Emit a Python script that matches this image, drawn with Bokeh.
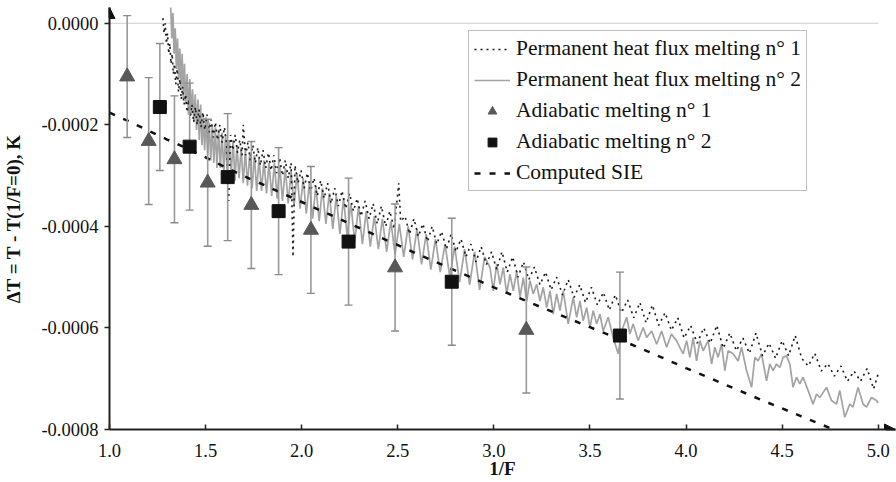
from bokeh.plotting import figure
from bokeh.models import (Range1d, FixedTicker, NumeralTickFormatter, Legend, LegendItem,
                          Arrow, NormalHead)
from bokeh.embed import file_html
from bokeh.resources import INLINE

UNIT = 1e-4  # values below are written in units of 1e-4 K

# Permanent heat flux melting n° 1 (dotted)
s1_x = [1.278, 1.284, 1.290, 1.296, 1.302, 1.308, 1.314, 1.320, 1.326, 1.332, 1.338, 1.345, 1.352, 1.359,
        1.366, 1.373, 1.380, 1.388, 1.396, 1.404, 1.412, 1.420, 1.429, 1.438, 1.447, 1.456, 1.466, 1.476,
        1.486, 1.496, 1.507, 1.518, 1.529, 1.540, 1.551, 1.562, 1.574, 1.586, 1.598, 1.610, 1.620, 1.630,
        1.642, 1.654, 1.666, 1.678, 1.690, 1.696, 1.708, 1.720, 1.733, 1.746, 1.759, 1.772, 1.785, 1.799,
        1.813, 1.827, 1.841, 1.855, 1.870, 1.885, 1.900, 1.915, 1.930, 1.945, 1.955, 1.965, 1.981, 1.997,
        2.013, 2.030, 2.047, 2.064, 2.081, 2.099, 2.117, 2.135, 2.153, 2.172, 2.191, 2.210, 2.229, 2.249,
        2.269, 2.289, 2.309, 2.330, 2.351, 2.372, 2.393, 2.415, 2.437, 2.459, 2.481, 2.505, 2.515, 2.538,
        2.561, 2.584, 2.607, 2.631, 2.655, 2.679, 2.703, 2.728, 2.753, 2.778, 2.803, 2.829, 2.855, 2.881,
        2.907, 2.934, 2.961, 2.988, 3.015, 3.042, 3.070, 3.098, 3.126, 3.154, 3.182, 3.211, 3.240, 3.269,
        3.298, 3.327, 3.357, 3.387, 3.417, 3.447, 3.477, 3.508, 3.539, 3.570, 3.601, 3.632, 3.664, 3.696,
        3.728, 3.760, 3.792, 3.825, 3.858, 3.891, 3.924, 3.957, 3.990, 4.024, 4.058, 4.092, 4.126, 4.160,
        4.194, 4.228, 4.262, 4.296, 4.330, 4.364, 4.398, 4.432, 4.466, 4.500, 4.534, 4.568, 4.602, 4.636,
        4.670, 4.704, 4.738, 4.772, 4.806, 4.840, 4.874, 4.908, 4.942, 4.976, 5.000]
s1_y = [0.1, -0.2, 0.0, -0.4, -0.2, -0.6, -0.4, -0.8, -0.6, -1.0, -0.8, -1.2, -0.9, -1.35,
        -1.1, -1.5, -1.25, -1.6, -1.4, -1.75, -1.5, -1.85, -1.6, -1.95, -1.65, -2.0, -1.7, -2.05,
        -1.75, -2.1, -1.8, -2.15, -1.9, -2.25, -1.95, -2.3, -2.0, -2.35, -2.05, -2.4, -3.5, -2.2,
        -2.5, -2.2, -2.55, -2.3, -2.6, -2.0, -2.6, -2.35, -2.7, -2.4, -2.75, -2.45, -2.8, -2.5,
        -2.85, -2.55, -2.9, -2.6, -2.95, -2.65, -3.0, -2.7, -3.05, -2.75, -4.6, -2.8, -3.15, -2.9,
        -3.25, -2.95, -3.3, -3.05, -3.4, -3.1, -3.45, -3.15, -3.55, -3.25, -3.6, -3.3, -3.65, -3.35,
        -3.7, -3.45, -3.8, -3.5, -3.85, -3.55, -3.95, -3.6, -4.0, -3.7, -4.05, -3.15, -3.9, -3.8,
        -4.15, -3.85, -4.2, -3.95, -4.3, -4.0, -4.35, -4.1, -4.45, -4.15, -4.5, -4.25, -4.6, -4.35,
        -4.7, -4.4, -4.75, -4.5, -4.85, -4.5, -4.9, -4.6, -5.0, -4.7, -5.05, -4.8, -5.15, -4.9,
        -5.25, -5.0, -5.35, -5.05, -5.4, -5.15, -5.5, -5.2, -5.55, -5.3, -5.65, -5.35, -5.7, -5.45,
        -5.8, -5.5, -5.9, -5.55, -5.95, -5.7, -6.05, -5.8, -6.2, -5.95, -6.3, -6.0, -6.3, -5.95,
        -6.4, -6.1, -6.45, -6.2, -6.5, -6.1, -6.55, -6.3, -6.6, -6.25, -6.55, -6.15, -6.6, -6.75,
        -6.5, -6.85, -6.7, -6.95, -6.75, -7.05, -6.85, -7.05, -6.8, -7.2, -6.9]

# Permanent heat flux melting n° 2 (grey solid)
s2_x = [1.318, 1.324, 1.330, 1.336, 1.342, 1.348, 1.354, 1.360, 1.366, 1.372, 1.378, 1.384, 1.390, 1.397,
        1.404, 1.411, 1.418, 1.425, 1.432, 1.439, 1.446, 1.453, 1.460, 1.467, 1.474, 1.481, 1.488, 1.495,
        1.503, 1.511, 1.519, 1.527, 1.535, 1.543, 1.551, 1.559, 1.568, 1.577, 1.586, 1.595, 1.604, 1.613,
        1.623, 1.633, 1.643, 1.653, 1.663, 1.674, 1.685, 1.696, 1.707, 1.718, 1.730, 1.742, 1.754, 1.766,
        1.778, 1.791, 1.804, 1.817, 1.830, 1.844, 1.858, 1.872, 1.886, 1.900, 1.915, 1.930, 1.945, 1.960,
        1.976, 1.992, 2.008, 2.024,
        2.040, 2.057, 2.074, 2.091, 2.108, 2.126, 2.144, 2.162, 2.180, 2.199, 2.218, 2.237, 2.256, 2.276,
        2.296, 2.316, 2.336, 2.357, 2.378, 2.399, 2.420, 2.442, 2.464, 2.486, 2.508, 2.531, 2.554, 2.577,
        2.600, 2.624, 2.648, 2.672, 2.696, 2.721, 2.746, 2.771, 2.796, 2.822, 2.848, 2.874, 2.900, 2.926,
        2.952,
        2.980, 2.997, 3.015, 3.032, 3.049, 3.067, 3.084, 3.101, 3.119, 3.136, 3.153, 3.171, 3.188, 3.205,
        3.223, 3.240, 3.257, 3.275, 3.292, 3.309, 3.327, 3.344, 3.361, 3.387, 3.413, 3.431, 3.448, 3.465,
        3.483, 3.500, 3.517, 3.535, 3.552, 3.569, 3.595, 3.621, 3.647, 3.665, 3.691, 3.708, 3.725, 3.751,
        3.777, 3.795, 3.821, 3.847, 3.873, 3.899, 3.924, 3.950,
        3.985, 4.003, 4.020, 4.037, 4.055, 4.072, 4.089, 4.115, 4.133, 4.150, 4.167, 4.185, 4.202, 4.219,
        4.245, 4.271, 4.289, 4.315, 4.341, 4.358, 4.375, 4.393, 4.419, 4.436, 4.453, 4.471, 4.488, 4.505,
        4.523, 4.540, 4.557, 4.575, 4.592, 4.609, 4.635, 4.661, 4.679, 4.696, 4.731, 4.757, 4.783, 4.800,
        4.826, 4.852, 4.869, 4.895, 4.921, 4.939, 4.965, 4.991, 5.000]
s2_y = [0.4, -0.3, 0.2, -0.6, -0.1, -0.9, -0.3, -1.1, -0.5, -1.3, -0.6, -1.5, -0.8, -1.6,
        -1.0, -1.8, -1.1, -1.8, -1.3, -1.95, -1.4, -2.1, -1.5, -2.3, -1.6, -2.4, -1.8, -2.5,
        -1.85, -2.6, -1.95, -2.7, -2.0, -2.75, -2.05, -2.85, -2.1, -2.85, -2.15, -2.95, -2.2, -2.95,
        -2.3, -3.0, -2.3, -3.1, -2.4, -3.05, -2.45, -3.15, -2.5, -3.2, -2.55, -3.25, -2.6, -3.3,
        -2.65, -3.3, -2.7, -3.35, -2.75, -3.4, -2.75, -3.45, -2.8, -3.5, -2.85, -3.55, -2.9, -3.6,
        -2.95, -3.65, -3.05, -3.75,
        -3.15, -3.85, -3.2, -3.9, -3.25, -3.95, -3.35, -4.05, -3.4, -4.15, -3.45, -4.2, -3.55, -4.3,
        -3.6, -4.35, -3.7, -4.4, -3.8, -4.45, -3.85, -4.5, -3.9, -4.55, -3.95, -4.6, -4.0, -4.65,
        -4.05, -4.75, -4.15, -4.85, -4.25, -4.9, -4.35, -5.0, -4.4, -5.1, -4.45, -5.15, -4.5, -5.25,
        -4.6,
        -4.81, -5.27, -4.74, -5.14, -4.81, -5.33, -4.94, -5.27, -4.88, -5.40, -5.01, -5.47, -5.07, -5.33,
        -5.14, -5.47, -5.20, -5.60, -5.27, -5.73, -5.33, -5.66, -5.27, -5.92, -5.40, -5.79, -5.47, -5.86,
        -5.60, -5.99, -5.66, -5.92, -5.73, -6.06, -5.79, -6.19, -6.51, -6.06, -5.79, -6.12, -5.92, -6.25,
        -5.99, -6.19, -6.06, -6.32, -6.06, -6.38, -6.12, -6.25,
        -6.51, -6.25, -6.58, -6.19, -6.65, -6.25, -6.45, -6.25, -6.71, -6.38, -6.58, -6.32, -6.84, -6.45,
        -6.51, -6.65, -6.38, -6.84, -7.17, -6.58, -6.65, -6.51, -7.04, -6.71, -6.84, -6.71, -6.78, -6.58,
        -6.55, -6.71, -7.17, -6.97, -7.10, -6.97, -7.23, -7.50, -7.30, -7.37, -7.17, -7.43, -7.50, -7.23,
        -7.76, -7.50, -7.56, -7.17, -7.50, -7.56, -7.37, -7.43, -7.48]

# Adiabatic melting n° 1 (triangles) with error bars
a1_x = [1.092, 1.204, 1.338, 1.511, 1.738, 2.048, 2.486, 3.169]
a1_y = [-1.05, -2.32, -2.68, -3.14, -3.58, -4.07, -4.81, -6.04]
a1_err = [1.20, 1.25, 1.25, 1.25, 1.25, 1.25, 1.25, 1.24]

# Adiabatic melting n° 2 (squares) with error bars
a2_x = [1.262, 1.417, 1.615, 1.880, 2.244, 2.781, 3.656]
a2_y = [-1.65, -2.43, -3.03, -3.70, -4.30, -5.09, -6.15]
a2_err = [1.25, 1.25, 1.25, 1.25, 1.25, 1.25, 1.25]

# Computed SIE
sie_x = [1.0, 1.1, 1.2, 1.3, 1.4, 1.5, 1.6, 1.7, 1.8, 1.9, 2.0, 2.2, 2.4, 2.6, 2.8, 3.0,
         3.2, 3.4, 3.6, 3.8, 4.0, 4.2, 4.4, 4.6, 4.8, 4.85]
sie_y = [-1.76, -1.93, -2.11, -2.29, -2.46, -2.64, -2.83, -3.01, -3.18, -3.35, -3.52, -3.86,
         -4.20, -4.54, -4.87, -5.20, -5.52, -5.83, -6.14, -6.46, -6.79, -7.11, -7.43, -7.74,
         -8.05, -8.13]

zero_x = [1.0, 5.0]
zero_y = [0.0, 0.0]

x_ticks = [1.0, 1.5, 2.0, 2.5, 3.0, 3.5, 4.0, 4.5, 5.0]
y_ticks = [-0.0008, -0.0006, -0.0004, -0.0002, 0.0]

X0, X1 = 1.0, 5.09
Y0, Y1 = -0.0008, 0.000031

def k(v):
    return [u * UNIT for u in v]

p = figure(width=896, height=482, output_backend="svg", toolbar_location=None,
           x_range=Range1d(X0, X1), y_range=Range1d(Y0, Y1),
           min_border_left=109, min_border_right=1, min_border_top=7, min_border_bottom=53)
p.outline_line_color = None
p.xgrid.visible = False
p.ygrid.visible = False
p.background_fill_color = "white"

FONT = "Liberation Serif"

# zero reference line
p.line(zero_x, zero_y, line_color="#9a9a9a", line_width=1, line_dash="1 1")

r2 = p.line(s2_x, k(s2_y), line_color="#a3a3a3", line_width=1.7)
r1 = p.line(s1_x, k(s1_y), line_color="#1a1a1a", line_width=1.6, line_dash="2 4")
rs = p.line(sie_x, k(sie_y), line_color="#111111", line_width=2.5, line_dash="6 9")

# error bars
for xs, ys, es in ((a1_x, a1_y, a1_err), (a2_x, a2_y, a2_err)):
    lo = [(y - e) * UNIT for y, e in zip(ys, es)]
    hi = [(y + e) * UNIT for y, e in zip(ys, es)]
    p.segment(x0=xs, y0=lo, x1=xs, y1=hi, line_color="#9a9a9a", line_width=1.6)
    p.scatter(xs, lo, marker="dash", size=8, line_color="#8a8a8a", line_width=1.4)
    p.scatter(xs, hi, marker="dash", size=8, line_color="#8a8a8a", line_width=1.4)

ra1 = p.scatter(a1_x, k(a1_y), marker="triangle", size=15, fill_color="#585858", line_color="#585858")
ra2 = p.scatter(a2_x, k(a2_y), marker="square", size=13, fill_color="#111111", line_color="#111111")

# axes
p.xaxis.ticker = FixedTicker(ticks=x_ticks)
p.yaxis.ticker = FixedTicker(ticks=y_ticks)
p.xaxis.formatter = NumeralTickFormatter(format="0.0")
p.yaxis.formatter = NumeralTickFormatter(format="0.0000")
for ax in (p.xaxis[0], p.yaxis[0]):
    ax.axis_line_color = "#222222"
    ax.axis_line_width = 2
    ax.major_tick_line_color = "#222222"
    ax.major_tick_line_width = 1.5
    ax.minor_tick_line_color = None
    ax.major_label_text_font = FONT
    ax.major_label_text_font_size = "18.5px"
    ax.major_label_text_color = "#111111"
    ax.axis_label_text_font = FONT
    ax.axis_label_text_font_size = "19px"
    ax.axis_label_text_font_style = "bold"
    ax.axis_label_text_color = "#111111"
p.xaxis.major_tick_in = 5
p.xaxis.major_tick_out = 0
p.yaxis.major_tick_in = 0
p.yaxis.major_tick_out = 5
p.xaxis.major_label_standoff = 14
p.yaxis.major_label_standoff = 6
p.xaxis.axis_label = "1/F"
p.yaxis.axis_label = "ΔT = T - T(1/F=0), K"
p.xaxis.axis_label_standoff = -2
p.yaxis.axis_label_standoff = 14

# arrow heads on the axes
p.add_layout(Arrow(end=NormalHead(size=11, fill_color="#111111", line_color="#111111"),
                   x_start=X0, y_start=Y1 - 0.00002, x_end=X0, y_end=Y1,
                   line_color="#222222", line_width=2))
p.add_layout(Arrow(end=NormalHead(size=11, fill_color="#111111", line_color="#111111"),
                   x_start=X1 - 0.05, y_start=Y0, x_end=X1, y_end=Y0,
                   line_color="#222222", line_width=2))

legend = Legend(items=[
    LegendItem(label="Permanent heat flux melting n° 1", renderers=[r1]),
    LegendItem(label="Permanent heat flux melting n° 2", renderers=[r2]),
    LegendItem(label="Adiabatic melting n° 1", renderers=[ra1]),
    LegendItem(label="Adiabatic melting n° 2", renderers=[ra2]),
    LegendItem(label="Computed SIE", renderers=[rs]),
], location=(359, 238))
legend.label_text_font = FONT
legend.label_text_font_size = "21.5px"
legend.label_text_color = "#111111"
legend.glyph_width = 36
legend.glyph_height = 22
legend.label_height = 22
legend.spacing = 6
legend.padding = 5
legend.label_standoff = 6
legend.border_line_color = "#808080"
legend.border_line_width = 1.5
legend.background_fill_alpha = 1.0
p.add_layout(legend)

open("out.html", "w").write(file_html(p, INLINE))
